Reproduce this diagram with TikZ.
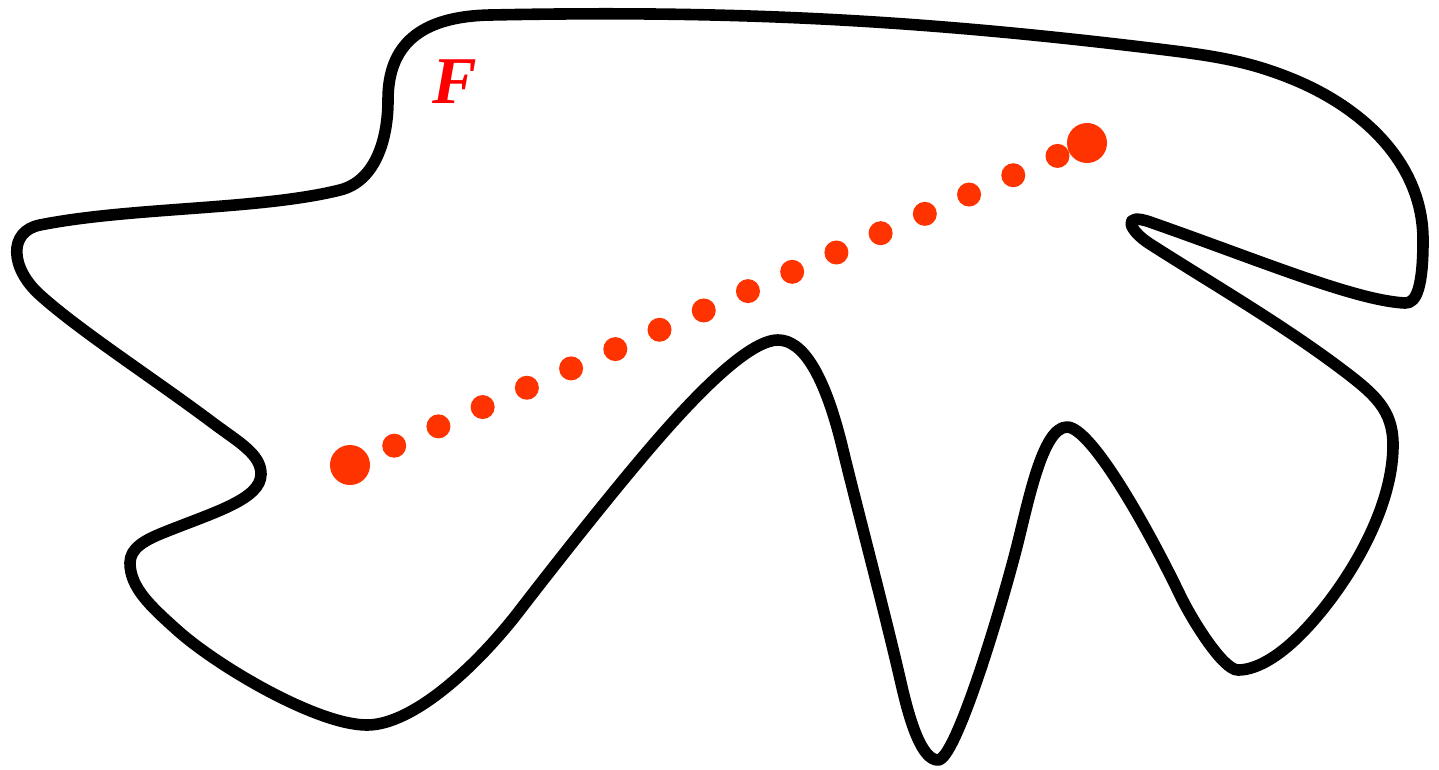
\documentclass[tikz,border=0pt]{standalone}
\usepackage{fontspec}
\setmainfont{Liberation Serif}
\usepackage{tikz}
\usetikzlibrary{calc}
\usepackage{xcolor}
\definecolor{dotcolor}{RGB}{255,51,0}

\begin{document}
\begin{tikzpicture}[
    x=0.01cm, y=-0.01cm,
    outline/.style={draw=black, line width=3.3pt, line join=round},
    bigdot/.style={circle, fill=dotcolor, inner sep=0pt, minimum size=4mm},
    smalldot/.style={circle, fill=dotcolor, inner sep=0pt, minimum size=2.4mm},
    setlabel/.style={text=red, inner sep=0pt, font=\fontsize{19}{19}\selectfont\bfseries\itshape}
]
\useasboundingbox (0,0) rectangle (1439,769);

% region boundary
\draw[outline] (388,100)
    .. controls (388,45) and (420,16.4) .. (490,15)
    .. controls (740,10) and (920,20.4) .. (1150,48)
    .. controls (1210,55.2) and (1245,60) .. (1290,78)
    .. controls (1365,108) and (1423,165) .. (1423,240)
    .. controls (1423,285) and (1417,303.6) .. (1405,303)
    .. controls (1355,300.5) and (1260,260.5) .. (1150,222)
    .. controls (1122,212.2) and (1128,229.9) .. (1150,244)
    .. controls (1210,282.4) and (1280,323) .. (1340,368)
    .. controls (1375,394.25) and (1393,410) .. (1393,445)
    .. controls (1393,515) and (1340,595) .. (1300,635)
    .. controls (1278,657) and (1256,670) .. (1238,670)
    .. controls (1223,670) and (1192,620) .. (1180,595)
    .. controls (1151.2,535) and (1092,427) .. (1067,427)
    .. controls (1042,427) and (1027.7,505) .. (1016,550)
    .. controls (997.8,620) and (955,760) .. (938,760)
    .. controls (921,760) and (909,718) .. (901,683)
    .. controls (885,613) and (855,500) .. (843,450)
    .. controls (825,375) and (803,340) .. (778,340)
    .. controls (748,340) and (693,398.6) .. (657,440)
    .. controls (617,486) and (556,563.2) .. (520,610)
    .. controls (475,668.5) and (412,725) .. (367,725)
    .. controls (317,725) and (217,666) .. (177,630)
    .. controls (152,607.5) and (130,588) .. (130,563)
    .. controls (130,548) and (145,540) .. (165,532)
    .. controls (215,512) and (261,499) .. (261,474)
    .. controls (261,454) and (238,441.75) .. (213,423)
    .. controls (153,378) and (80,331) .. (40,295)
    .. controls (10,268) and (8,231.4) .. (40,225)
    .. controls (130,207) and (260,210) .. (340,190)
    .. controls (375,181.25) and (388,140) .. (388,100) -- cycle;

\node[setlabel] (F) at (455,82) {F};

% dotted path
\node[bigdot] (start) at (350,465) {};
\node[bigdot] (end) at (1087,143) {};
\foreach \i in {1,...,16}
    \node[smalldot] (d\i) at ($(start)!\i*0.06!(end)$) {};
\end{tikzpicture}
\end{document}
